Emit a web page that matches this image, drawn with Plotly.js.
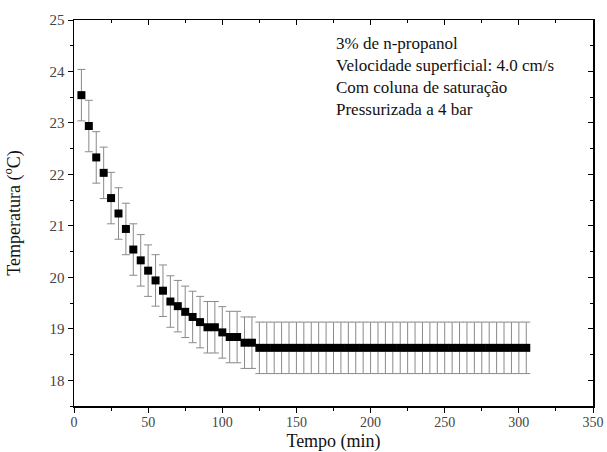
<!DOCTYPE html>
<html>
<head>
<meta charset="utf-8">
<script src="https://cdn.plot.ly/plotly-3.0.1.min.js"></script>
<style>html,body{margin:0;padding:0;background:#fff;}</style>
</head>
<body>
<div id="chart" style="width:607px;height:452px;"></div>
<script>
const tempoMin = [5,10,15,20,25,30,35,40,45,50,55,60,65,70,75,80,85,90,95,100,105,110,115,120,
  125,130,135,140,145,150,155,160,165,170,175,180,185,190,195,200,205,210,215,220,225,230,235,240,
  245,250,255,260,265,270,275,280,285,290,295,300,305];
const temperatura = [23.54,22.94,22.33,22.03,21.54,21.24,20.94,20.54,20.33,20.13,19.94,19.74,19.53,19.44,19.33,19.23,19.13,19.03,19.03,18.93,18.84,18.84,18.73,18.73,
  18.63,18.63,18.63,18.63,18.63,18.63,18.63,18.63,18.63,18.63,18.63,18.63,18.63,18.63,18.63,18.63,18.63,18.63,18.63,18.63,18.63,18.63,18.63,18.63,
  18.63,18.63,18.63,18.63,18.63,18.63,18.63,18.63,18.63,18.63,18.63,18.63,18.63];
const erro = [0.5,0.5,0.5,0.5,0.5,0.5,0.5,0.5,0.5,0.5,0.5,0.5,0.5,0.5,0.5,0.5,0.5,0.5,0.5,0.5,0.5,0.5,0.5,0.5,
  0.5,0.5,0.5,0.5,0.5,0.5,0.5,0.5,0.5,0.5,0.5,0.5,0.5,0.5,0.5,0.5,0.5,0.5,0.5,0.5,0.5,0.5,0.5,0.5,
  0.5,0.5,0.5,0.5,0.5,0.5,0.5,0.5,0.5,0.5,0.5,0.5,0.5];
const anotacao = ["3% de n-propanol","Velocidade superficial: 4.0 cm/s","Com coluna de saturação","Pressurizada a 4 bar"];
const xTicks = [0,50,100,150,200,250,300,350];
const yTicks = [18,19,20,21,22,23,24,25];

const serif = "Times New Roman, Liberation Serif, serif";

const traces = [
  {
    type: 'scatter', mode: 'markers', x: tempoMin, y: temperatura,
    marker: {symbol: 'square', size: 8, color: '#000'},
    error_y: {type: 'data', array: erro, visible: true, color: '#8a8a8a', thickness: 1, width: 4},
    showlegend: false, hoverinfo: 'x+y'
  },
  {type: 'scatter', x: [], y: [], xaxis: 'x2', yaxis: 'y2', showlegend: false}
];

const layout = {
  width: 607, height: 452,
  margin: {l: 74, r: 14, t: 20, b: 46},
  paper_bgcolor: '#fff', plot_bgcolor: '#fff',
  font: {family: serif, color: '#000', size: 15},
  xaxis: {
    showline: true, linecolor: '#000', linewidth: 1.5, showgrid: false, zeroline: false,
    ticks: 'outside', ticklen: 5, tickwidth: 1, tickcolor: '#000',
    tickfont: {family: serif, size: 14, color: '#444'}, ticklabelstandoff: -2,
    range: [0, 350], tickvals: xTicks,
    minor: {dtick: 25, tick0: 0, ticks: 'outside', ticklen: 3, tickcolor: '#000'},
    title: {text: 'Tempo (min)', font: {family: serif, size: 18, color: '#111'}, standoff: 7}
  },
  yaxis: {
    showline: true, linecolor: '#000', linewidth: 1.5, showgrid: false, zeroline: false,
    ticks: 'outside', ticklen: 5, tickwidth: 1, tickcolor: '#000',
    tickfont: {family: serif, size: 15, color: '#444'},
    range: [17.5, 25], tickvals: yTicks,
    minor: {dtick: 0.5, tick0: 0, ticks: 'outside', ticklen: 3, tickcolor: '#000'},
    title: {text: 'Temperatura (<sup>o</sup>C)', font: {family: serif, size: 18, color: '#111'}, standoff: 24}
  },
  xaxis2: {
    overlaying: 'x', side: 'top', anchor: 'y2', range: [0, 350], tickvals: xTicks,
    showline: true, linecolor: '#000', linewidth: 1.5, showgrid: false, zeroline: false,
    ticks: 'inside', ticklen: 5, tickcolor: '#000', showticklabels: false,
    minor: {dtick: 25, tick0: 0, ticks: 'inside', ticklen: 3, tickcolor: '#000'}
  },
  yaxis2: {
    overlaying: 'y', side: 'right', anchor: 'x2', range: [17.5, 25], tickvals: yTicks,
    showline: true, linecolor: '#000', linewidth: 1.5, showgrid: false, zeroline: false,
    ticks: 'inside', ticklen: 5, tickcolor: '#000', showticklabels: false,
    minor: {dtick: 0.5, tick0: 0, ticks: 'inside', ticklen: 3, tickcolor: '#000'}
  },
  annotations: [{
    xref: 'paper', yref: 'paper', x: 0.5, y: 0.968, xanchor: 'left', yanchor: 'top',
    align: 'left', showarrow: false,
    text: anotacao.join('<br>'),
    font: {family: serif, size: 17, color: '#111'}
  }]
};

Plotly.newPlot('chart', traces, layout, {displayModeBar: false, staticPlot: true});
</script>
</body>
</html>
